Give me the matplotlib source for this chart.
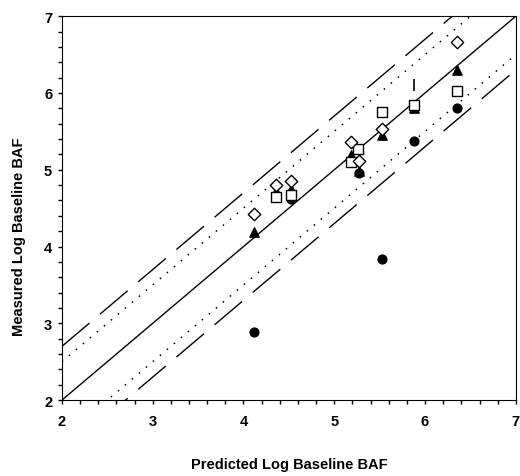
import matplotlib
matplotlib.use("Agg")
import matplotlib.pyplot as plt
import numpy as np

plt.rcParams['font.family'] = ['Liberation Sans', 'DejaVu Sans']

# open diamonds
dia_x = [4.12, 4.36, 4.52, 5.18, 5.27, 5.53, 6.35]
dia_y = [4.43, 4.80, 4.85, 5.36, 5.11, 5.53, 6.66]
# open squares
sq_x = [4.36, 4.52, 5.18, 5.26, 5.53, 5.88, 6.35]
sq_y = [4.64, 4.67, 5.10, 5.27, 5.75, 5.84, 6.03]
# filled triangles
tri_x = [4.12, 4.36, 4.52, 5.18, 5.27, 5.53, 5.88, 6.35]
tri_y = [4.19, 4.72, 4.75, 5.19, 4.99, 5.45, 5.80, 6.30]
# filled circles
circ_x = [4.12, 4.52, 5.27, 5.53, 5.88, 6.35]
circ_y = [2.89, 4.62, 4.96, 3.84, 5.38, 5.80]
# vertical bar point
bar_x = [5.88]
bar_y = [6.10]

ref_x = [2, 7]
dot_off = 0.5
dash_off = 0.7

fig = plt.figure(figsize=(5.2, 4.77), dpi=100)
ax = fig.add_axes([0.119, 0.159, 0.873, 0.805])

rx = np.array(ref_x)
ax.plot(rx, rx, color='black', lw=1)
ax.plot(rx, rx + dot_off, color='black', lw=1.1, linestyle=(0, (1, 5)))
ax.plot(rx, rx - dot_off, color='black', lw=1.1, linestyle=(0, (1, 5)))
ax.plot(rx, rx + dash_off, color='black', lw=1, linestyle=(0, (26, 10)))
ax.plot(rx, rx - dash_off, color='black', lw=1, linestyle=(0, (26, 10)))

ax.scatter(circ_x, circ_y, marker='o', s=40, color='black', zorder=3)
ax.scatter(tri_x, tri_y, marker='^', s=45, color='black', zorder=4)
ax.scatter(sq_x, sq_y, marker='s', s=42, facecolor='white', edgecolor='black', linewidth=1, zorder=5)
ax.scatter(dia_x, dia_y, marker='D', s=40, facecolor='white', edgecolor='black', linewidth=1, zorder=6)
ax.scatter(bar_x, bar_y, marker='|', s=70, color='black', linewidth=1.2, zorder=6)

ax.set_xlim(2, 7)
ax.set_ylim(2, 7)
ax.set_xticks(np.arange(2, 8, 1))
ax.set_yticks(np.arange(2, 8, 1))
ax.set_xticks(np.arange(2, 7.01, 0.2), minor=True)
ax.set_yticks(np.arange(2, 7.01, 0.2), minor=True)
ax.tick_params(which='both', direction='out', length=3, width=1, top=False, right=False)
ax.tick_params(axis='x', which='major', labelsize=10.5, pad=7)
ax.tick_params(axis='y', which='major', labelsize=10.5, pad=4)
for lab in ax.get_xticklabels() + ax.get_yticklabels():
    lab.set_fontweight('bold')

ax.set_xlabel('Predicted Log Baseline BAF', fontsize=10.5, fontweight='bold')
ax.set_ylabel('Measured Log Baseline BAF', fontsize=10.5, fontweight='bold')
ax.xaxis.set_label_coords(0.5, -0.148)
ax.yaxis.set_label_coords(-0.08, 0.427)

fig.savefig('out.png', dpi=100)
